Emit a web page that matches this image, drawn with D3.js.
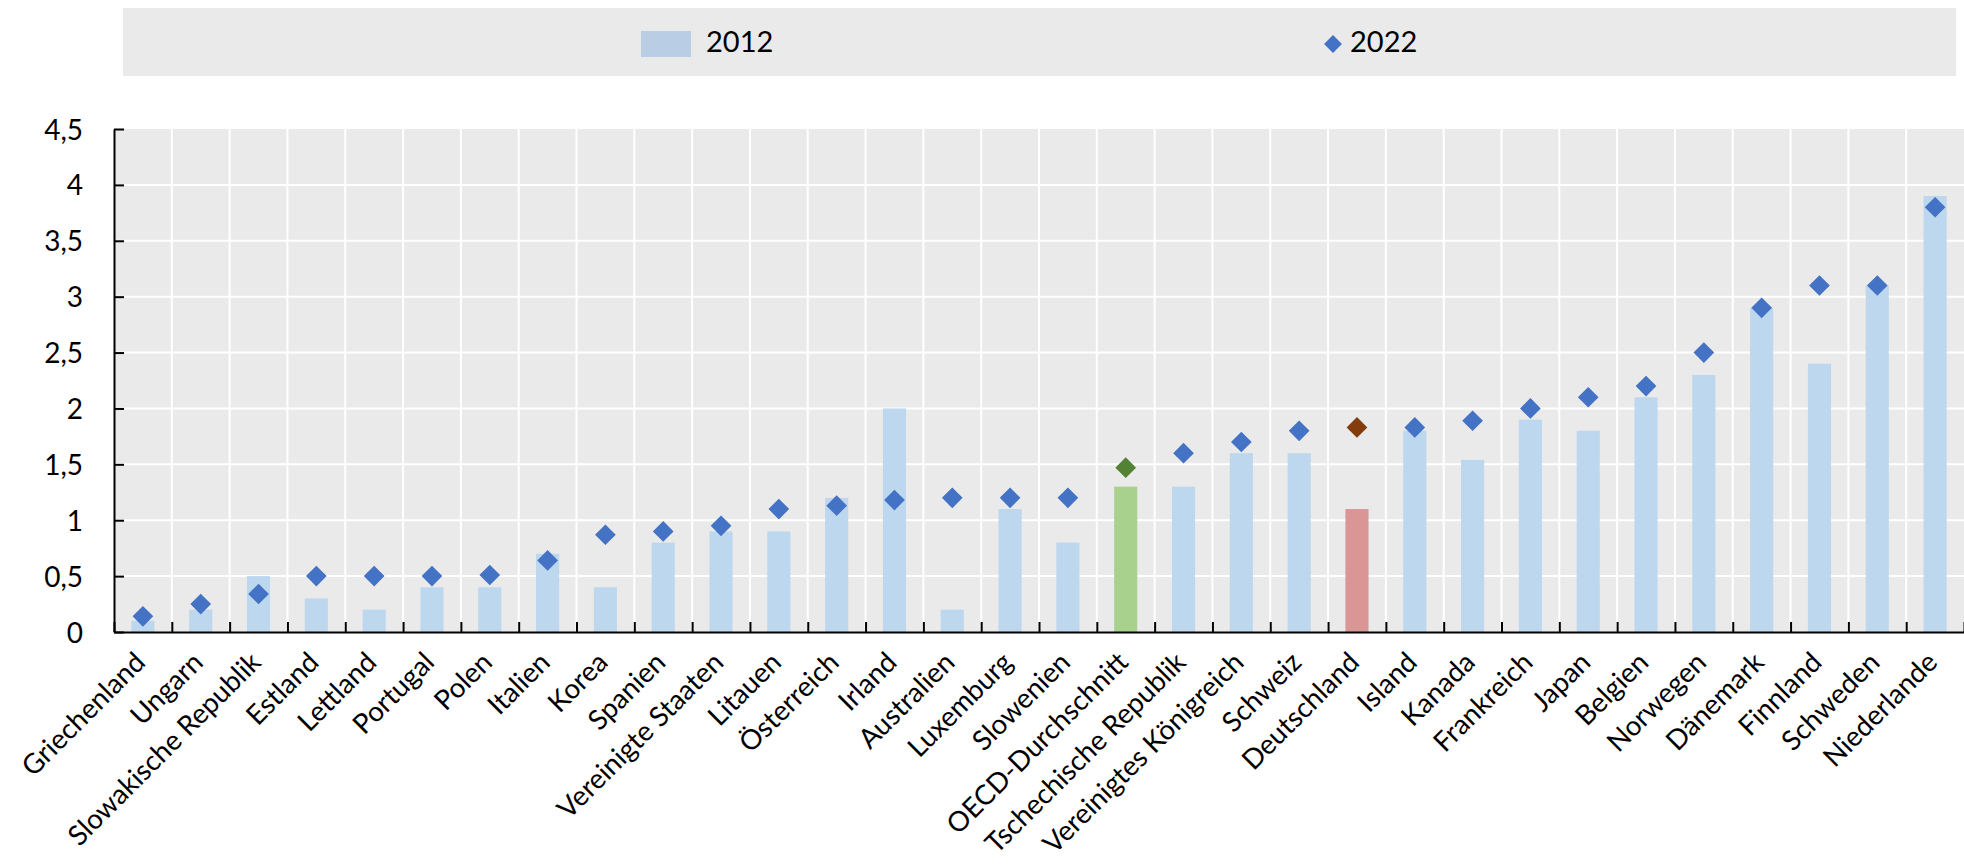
<!DOCTYPE html>
<html lang="de">
<head>
  <meta charset="UTF-8">
  <title>2012 vs 2022</title>
  <script src="https://d3js.org/d3.v7.min.js"></script>
  <style>
      body {
          margin: 0;
          padding: 0;
          background: #fff;
          font-family: 'Lato', sans-serif;
      }
      svg {
          display: block;
          font-family: 'Lato', sans-serif;
      }
      .tick text {
          font-family: 'Lato', sans-serif;
          font-size: 28px;
          fill: #000;
      }
  </style>
</head>
<body>
  <svg width="1964" height="866"></svg>
  <script>
      // Data
      const countries = ["Griechenland", "Ungarn", "Slowakische Republik", "Estland", "Lettland", "Portugal",
          "Polen", "Italien", "Korea", "Spanien", "Vereinigte Staaten", "Litauen", "Österreich", "Irland",
          "Australien", "Luxemburg", "Slowenien", "OECD-Durchschnitt", "Tschechische Republik",
          "Vereinigtes Königreich", "Schweiz", "Deutschland", "Island", "Kanada", "Frankreich", "Japan",
          "Belgien", "Norwegen", "Dänemark", "Finnland", "Schweden", "Niederlande"];
      const values2012 = [0.1, 0.2, 0.5, 0.3, 0.2, 0.4, 0.4, 0.7, 0.4, 0.8, 0.9, 0.9, 1.2, 2.0,
          0.2, 1.1, 0.8, 1.3, 1.3, 1.6, 1.6, 1.1, 1.8, 1.54, 1.9, 1.8, 2.1, 2.3, 2.9, 2.4, 3.1, 3.9];
      const values2022 = [0.14, 0.25, 0.34, 0.5, 0.5, 0.5, 0.51, 0.64, 0.87, 0.9, 0.95, 1.1, 1.13, 1.18,
          1.2, 1.2, 1.2, 1.47, 1.6, 1.7, 1.8, 1.83, 1.83, 1.89, 2.0, 2.1, 2.2, 2.5, 2.9, 3.1, 3.1, 3.8];
      const yTicks = [0, 0.5, 1, 1.5, 2, 2.5, 3, 3.5, 4, 4.5];
      const seriesNames = ["2012", "2022"];

      const svg = d3.select("svg");

      const plot = { left: 114, right: 1964, top: 129, bottom: 632 };

      const x = d3.scaleBand().domain(countries).range([plot.left, plot.right]).padding(0);
      const xEdge = d3.scaleLinear().domain([0, countries.length]).range([plot.left, plot.right]);
      const y = d3.scaleLinear().domain([0, 4.5]).range([plot.bottom, plot.top]);

      const de = d3.formatLocale({ decimal: ",", thousands: ".", grouping: [3], currency: ["", " €"] });
      const fmt = de.format(".1~f");

      // colours: normal / OECD / Germany
      const barColor = d => d === "OECD-Durchschnitt" ? "#a9d18e" : d === "Deutschland" ? "#da9694" : "#bdd7ee";
      const dotColor = d => d === "OECD-Durchschnitt" ? "#548235" : d === "Deutschland" ? "#843c0c" : "#4472c4";

      // plot background
      svg.append("rect")
          .attr("x", plot.left).attr("y", plot.top)
          .attr("width", plot.right - plot.left).attr("height", plot.bottom - plot.top)
          .attr("fill", "#eaeaea");

      // grid
      svg.append("g")
          .selectAll("line")
          .data(yTicks.slice(1, -1))
          .join("line")
          .attr("x1", plot.left).attr("x2", plot.right)
          .attr("y1", d => y(d)).attr("y2", d => y(d))
          .attr("stroke", "#fff").attr("stroke-width", 2);

      svg.append("g")
          .selectAll("line")
          .data(d3.range(1, countries.length))
          .join("line")
          .attr("x1", d => xEdge(d)).attr("x2", d => xEdge(d))
          .attr("y1", plot.top).attr("y2", plot.bottom)
          .attr("stroke", "#fff").attr("stroke-width", 2);

      // bars 2012
      const barW = x.bandwidth() * 0.4;
      svg.append("g")
          .selectAll("rect")
          .data(countries)
          .join("rect")
          .attr("x", d => x(d) + (x.bandwidth() - barW) / 2)
          .attr("y", (d, i) => y(values2012[i]))
          .attr("width", barW)
          .attr("height", (d, i) => y(0) - y(values2012[i]))
          .attr("fill", barColor);

      // diamonds 2022
      const diamond = d3.symbol().type(d3.symbolSquare).size(214);
      svg.append("g")
          .selectAll("path")
          .data(countries)
          .join("path")
          .attr("d", diamond)
          .attr("transform", (d, i) => `translate(${x(d) + x.bandwidth() / 2},${y(values2022[i])}) rotate(45)`)
          .attr("fill", dotColor);

      // y axis
      const yAxis = svg.append("g")
          .attr("transform", `translate(${plot.left},0)`)
          .call(d3.axisLeft(y).tickValues(yTicks).tickFormat(fmt).tickSizeInner(-10).tickSizeOuter(0).tickPadding(31));
      yAxis.select(".domain").attr("stroke", "#000").attr("stroke-width", 2);
      yAxis.selectAll(".tick line").attr("stroke", "#000").attr("stroke-width", 2);
      yAxis.selectAll(".tick text").attr("dy", "0.36em");

      // x axis (ticks on category edges)
      const xAxis = svg.append("g")
          .attr("transform", `translate(0,${plot.bottom})`)
          .call(d3.axisBottom(xEdge).tickValues(d3.range(0, countries.length + 1)).tickFormat("").tickSizeInner(-10).tickSizeOuter(0));
      xAxis.select(".domain").attr("stroke", "#000").attr("stroke-width", 2);
      xAxis.selectAll(".tick line").attr("stroke", "#000").attr("stroke-width", 2);

      // label size: the longest labels in the source run about 270px
      const probe = svg.append("text").attr("font-size", 100).text("Vereinigtes Königreich");
      const labelSize = 100 * 270 / probe.node().getComputedTextLength();
      probe.remove();

      // category labels
      svg.append("g")
          .selectAll("text")
          .data(countries)
          .join("text")
          .attr("transform", d => `translate(${x(d) + x.bandwidth() / 2 + 4},${plot.bottom + 32}) rotate(-45)`)
          .attr("text-anchor", "end")
          .attr("font-size", labelSize + "px")
          .attr("fill", "#000")
          .text(d => d);

      // legend
      const legend = svg.append("g");
      legend.append("rect")
          .attr("x", 123).attr("y", 8)
          .attr("width", 1956 - 123).attr("height", 68)
          .attr("fill", "#eaeaea");

      legend.append("rect")
          .attr("x", 641).attr("y", 31)
          .attr("width", 50).attr("height", 26)
          .attr("fill", "#b9cde5");
      legend.append("text")
          .attr("x", 706).attr("y", 52)
          .attr("font-size", "29px")
          .text(seriesNames[0]);

      legend.append("path")
          .attr("d", d3.symbol().type(d3.symbolSquare).size(160))
          .attr("transform", "translate(1333,44) rotate(45)")
          .attr("fill", "#4472c4");
      legend.append("text")
          .attr("x", 1350).attr("y", 52)
          .attr("font-size", "29px")
          .text(seriesNames[1]);
  </script>
</body>
</html>
